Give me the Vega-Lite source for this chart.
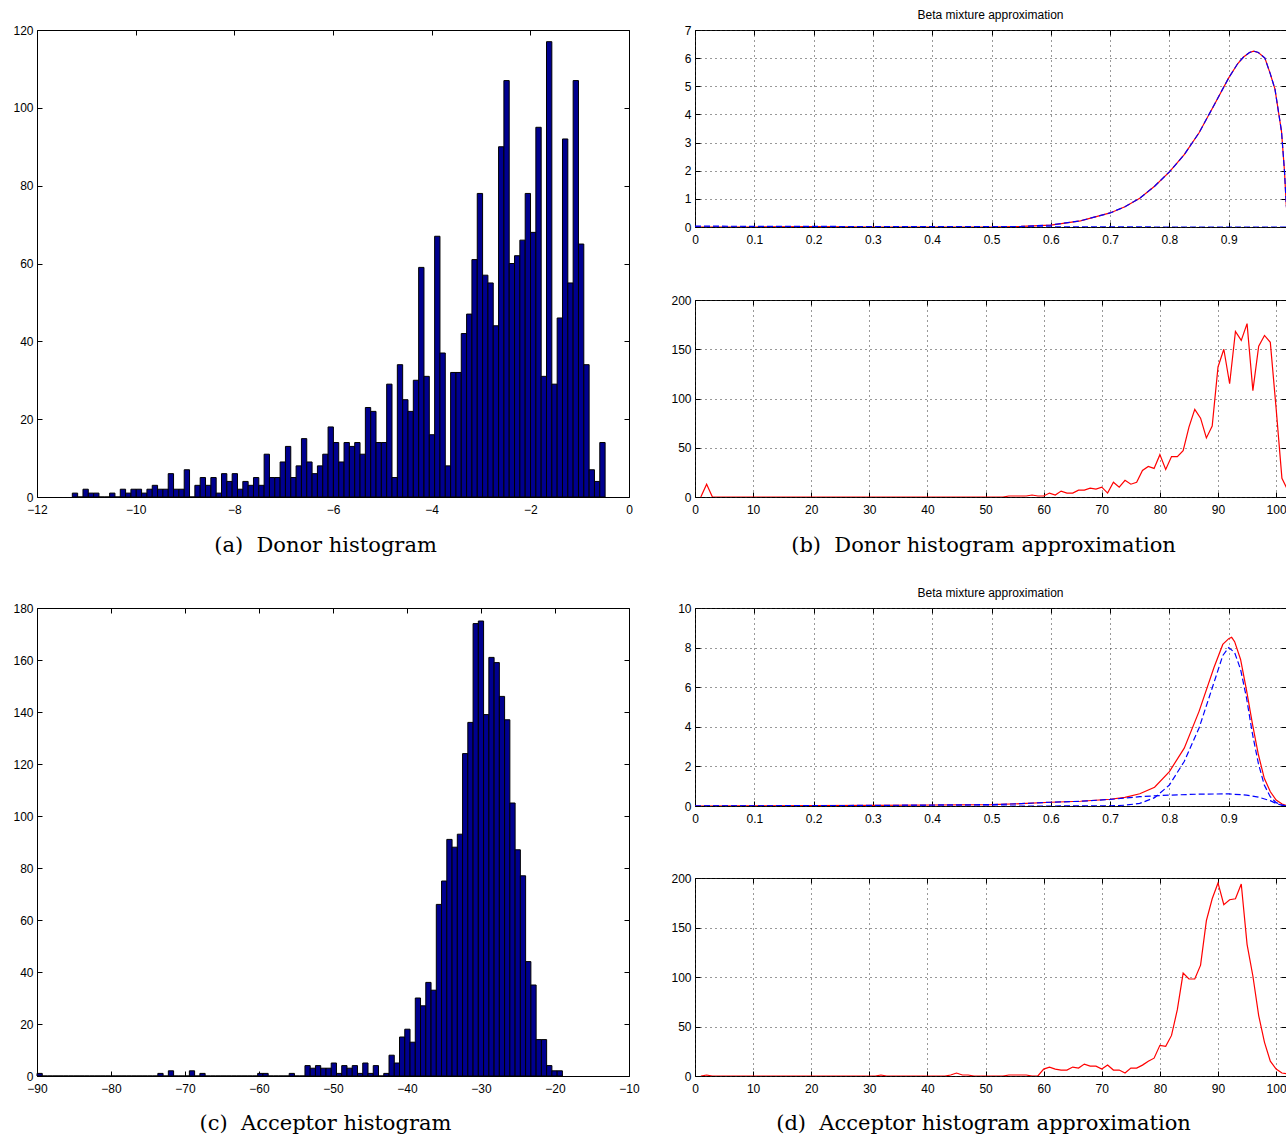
{
  "$schema": "https://vega.github.io/schema/vega-lite/v6.json",
  "background": "white",
  "padding": {"left": 12, "top": 8, "right": 0, "bottom": 0},
  "datasets": {
    "donor": [
      {"lo":-11.284,"hi":-11.176,"n":1},{"lo":-11.176,"hi":-11.068,"n":0},{"lo":-11.068,"hi":-10.96,"n":2},{"lo":-10.96,"hi":-10.852,"n":1},
      {"lo":-10.852,"hi":-10.744,"n":1},{"lo":-10.744,"hi":-10.636,"n":0},{"lo":-10.636,"hi":-10.528,"n":0},{"lo":-10.528,"hi":-10.42,"n":1},
      {"lo":-10.42,"hi":-10.312,"n":0},{"lo":-10.312,"hi":-10.204,"n":2},{"lo":-10.204,"hi":-10.096,"n":1},{"lo":-10.096,"hi":-9.988,"n":2},
      {"lo":-9.988,"hi":-9.88,"n":2},{"lo":-9.88,"hi":-9.772,"n":1},{"lo":-9.772,"hi":-9.664,"n":2},{"lo":-9.664,"hi":-9.556,"n":3},
      {"lo":-9.556,"hi":-9.448,"n":2},{"lo":-9.448,"hi":-9.34,"n":2},{"lo":-9.34,"hi":-9.232,"n":6},{"lo":-9.232,"hi":-9.124,"n":2},
      {"lo":-9.124,"hi":-9.016,"n":2},{"lo":-9.016,"hi":-8.908,"n":7},{"lo":-8.908,"hi":-8.8,"n":0},{"lo":-8.8,"hi":-8.692,"n":3},
      {"lo":-8.692,"hi":-8.584,"n":5},{"lo":-8.584,"hi":-8.476,"n":3},{"lo":-8.476,"hi":-8.368,"n":5},{"lo":-8.368,"hi":-8.26,"n":1},
      {"lo":-8.26,"hi":-8.152,"n":6},{"lo":-8.152,"hi":-8.044,"n":4},{"lo":-8.044,"hi":-7.936,"n":6},{"lo":-7.936,"hi":-7.828,"n":2},
      {"lo":-7.828,"hi":-7.72,"n":4},{"lo":-7.72,"hi":-7.612,"n":3},{"lo":-7.612,"hi":-7.504,"n":5},{"lo":-7.504,"hi":-7.396,"n":3},
      {"lo":-7.396,"hi":-7.288,"n":11},{"lo":-7.288,"hi":-7.18,"n":5},{"lo":-7.18,"hi":-7.072,"n":5},{"lo":-7.072,"hi":-6.964,"n":9},
      {"lo":-6.964,"hi":-6.856,"n":13},{"lo":-6.856,"hi":-6.748,"n":5},{"lo":-6.748,"hi":-6.64,"n":8},{"lo":-6.64,"hi":-6.532,"n":15},
      {"lo":-6.532,"hi":-6.424,"n":9},{"lo":-6.424,"hi":-6.316,"n":6},{"lo":-6.316,"hi":-6.208,"n":8},{"lo":-6.208,"hi":-6.1,"n":11},
      {"lo":-6.1,"hi":-5.992,"n":18},{"lo":-5.992,"hi":-5.884,"n":14},{"lo":-5.884,"hi":-5.776,"n":9},{"lo":-5.776,"hi":-5.668,"n":14},
      {"lo":-5.668,"hi":-5.56,"n":13},{"lo":-5.56,"hi":-5.452,"n":14},{"lo":-5.452,"hi":-5.344,"n":11},{"lo":-5.344,"hi":-5.236,"n":23},
      {"lo":-5.236,"hi":-5.128,"n":22},{"lo":-5.128,"hi":-5.02,"n":14},{"lo":-5.02,"hi":-4.912,"n":14},{"lo":-4.912,"hi":-4.804,"n":29},
      {"lo":-4.804,"hi":-4.696,"n":5},{"lo":-4.696,"hi":-4.588,"n":34},{"lo":-4.588,"hi":-4.48,"n":25},{"lo":-4.48,"hi":-4.372,"n":22},
      {"lo":-4.372,"hi":-4.264,"n":30},{"lo":-4.264,"hi":-4.156,"n":59},{"lo":-4.156,"hi":-4.048,"n":31},{"lo":-4.048,"hi":-3.94,"n":16},
      {"lo":-3.94,"hi":-3.832,"n":67},{"lo":-3.832,"hi":-3.724,"n":37},{"lo":-3.724,"hi":-3.616,"n":8},{"lo":-3.616,"hi":-3.508,"n":32},
      {"lo":-3.508,"hi":-3.4,"n":32},{"lo":-3.4,"hi":-3.292,"n":42},{"lo":-3.292,"hi":-3.184,"n":47},{"lo":-3.184,"hi":-3.076,"n":61},
      {"lo":-3.076,"hi":-2.968,"n":78},{"lo":-2.968,"hi":-2.86,"n":57},{"lo":-2.86,"hi":-2.752,"n":55},{"lo":-2.752,"hi":-2.644,"n":44},
      {"lo":-2.644,"hi":-2.536,"n":90},{"lo":-2.536,"hi":-2.428,"n":107},{"lo":-2.428,"hi":-2.32,"n":60},{"lo":-2.32,"hi":-2.212,"n":62},
      {"lo":-2.212,"hi":-2.104,"n":66},{"lo":-2.104,"hi":-1.996,"n":78},{"lo":-1.996,"hi":-1.888,"n":68},{"lo":-1.888,"hi":-1.78,"n":95},
      {"lo":-1.78,"hi":-1.672,"n":31},{"lo":-1.672,"hi":-1.564,"n":117},{"lo":-1.564,"hi":-1.456,"n":29},{"lo":-1.456,"hi":-1.348,"n":46},
      {"lo":-1.348,"hi":-1.24,"n":92},{"lo":-1.24,"hi":-1.132,"n":55},{"lo":-1.132,"hi":-1.024,"n":107},{"lo":-1.024,"hi":-0.916,"n":65},
      {"lo":-0.916,"hi":-0.808,"n":34},{"lo":-0.808,"hi":-0.7,"n":7},{"lo":-0.7,"hi":-0.592,"n":4},{"lo":-0.592,"hi":-0.484,"n":14}
    ],
    "acceptor": [
      {"lo":-90,"hi":-89.29,"n":1},{"lo":-89.29,"hi":-88.58,"n":0},{"lo":-88.58,"hi":-87.87,"n":0},{"lo":-87.87,"hi":-87.16,"n":0},
      {"lo":-87.16,"hi":-86.45,"n":0},{"lo":-86.45,"hi":-85.74,"n":0},{"lo":-85.74,"hi":-85.03,"n":0},{"lo":-85.03,"hi":-84.32,"n":0},
      {"lo":-84.32,"hi":-83.61,"n":0},{"lo":-83.61,"hi":-82.9,"n":0},{"lo":-82.9,"hi":-82.19,"n":0},{"lo":-82.19,"hi":-81.48,"n":0},
      {"lo":-81.48,"hi":-80.77,"n":0},{"lo":-80.77,"hi":-80.06,"n":0},{"lo":-80.06,"hi":-79.35,"n":0},{"lo":-79.35,"hi":-78.64,"n":0},
      {"lo":-78.64,"hi":-77.93,"n":0},{"lo":-77.93,"hi":-77.22,"n":0},{"lo":-77.22,"hi":-76.51,"n":0},{"lo":-76.51,"hi":-75.8,"n":0},
      {"lo":-75.8,"hi":-75.09,"n":0},{"lo":-75.09,"hi":-74.38,"n":0},{"lo":-74.38,"hi":-73.67,"n":0},{"lo":-73.67,"hi":-72.96,"n":1},
      {"lo":-72.96,"hi":-72.25,"n":0},{"lo":-72.25,"hi":-71.54,"n":2},{"lo":-71.54,"hi":-70.83,"n":0},{"lo":-70.83,"hi":-70.12,"n":0},
      {"lo":-70.12,"hi":-69.41,"n":0},{"lo":-69.41,"hi":-68.7,"n":2},{"lo":-68.7,"hi":-67.99,"n":0},{"lo":-67.99,"hi":-67.28,"n":1},
      {"lo":-67.28,"hi":-66.57,"n":0},{"lo":-66.57,"hi":-65.86,"n":0},{"lo":-65.86,"hi":-65.15,"n":0},{"lo":-65.15,"hi":-64.44,"n":0},
      {"lo":-64.44,"hi":-63.73,"n":0},{"lo":-63.73,"hi":-63.02,"n":0},{"lo":-63.02,"hi":-62.31,"n":0},{"lo":-62.31,"hi":-61.6,"n":0},
      {"lo":-61.6,"hi":-60.89,"n":0},{"lo":-60.89,"hi":-60.18,"n":0},{"lo":-60.18,"hi":-59.47,"n":1},{"lo":-59.47,"hi":-58.76,"n":1},
      {"lo":-58.76,"hi":-58.05,"n":0},{"lo":-58.05,"hi":-57.34,"n":0},{"lo":-57.34,"hi":-56.63,"n":0},{"lo":-56.63,"hi":-55.92,"n":0},
      {"lo":-55.92,"hi":-55.21,"n":1},{"lo":-55.21,"hi":-54.5,"n":0},{"lo":-54.5,"hi":-53.79,"n":0},{"lo":-53.79,"hi":-53.08,"n":4},
      {"lo":-53.08,"hi":-52.37,"n":3},{"lo":-52.37,"hi":-51.66,"n":4},{"lo":-51.66,"hi":-50.95,"n":3},{"lo":-50.95,"hi":-50.24,"n":3},
      {"lo":-50.24,"hi":-49.53,"n":5},{"lo":-49.53,"hi":-48.82,"n":1},{"lo":-48.82,"hi":-48.11,"n":4},{"lo":-48.11,"hi":-47.4,"n":3},
      {"lo":-47.4,"hi":-46.69,"n":4},{"lo":-46.69,"hi":-45.98,"n":1},{"lo":-45.98,"hi":-45.27,"n":5},{"lo":-45.27,"hi":-44.56,"n":1},
      {"lo":-44.56,"hi":-43.85,"n":4},{"lo":-43.85,"hi":-43.14,"n":0},{"lo":-43.14,"hi":-42.43,"n":1},{"lo":-42.43,"hi":-41.72,"n":8},
      {"lo":-41.72,"hi":-41.01,"n":5},{"lo":-41.01,"hi":-40.3,"n":15},{"lo":-40.3,"hi":-39.59,"n":18},{"lo":-39.59,"hi":-38.88,"n":13},
      {"lo":-38.88,"hi":-38.17,"n":30},{"lo":-38.17,"hi":-37.46,"n":27},{"lo":-37.46,"hi":-36.75,"n":36},{"lo":-36.75,"hi":-36.04,"n":33},
      {"lo":-36.04,"hi":-35.33,"n":66},{"lo":-35.33,"hi":-34.62,"n":75},{"lo":-34.62,"hi":-33.91,"n":91},{"lo":-33.91,"hi":-33.2,"n":88},
      {"lo":-33.2,"hi":-32.49,"n":93},{"lo":-32.49,"hi":-31.78,"n":124},{"lo":-31.78,"hi":-31.07,"n":136},{"lo":-31.07,"hi":-30.36,"n":174},
      {"lo":-30.36,"hi":-29.65,"n":175},{"lo":-29.65,"hi":-28.94,"n":139},{"lo":-28.94,"hi":-28.23,"n":161},{"lo":-28.23,"hi":-27.52,"n":159},
      {"lo":-27.52,"hi":-26.81,"n":146},{"lo":-26.81,"hi":-26.1,"n":137},{"lo":-26.1,"hi":-25.39,"n":105},{"lo":-25.39,"hi":-24.68,"n":87},
      {"lo":-24.68,"hi":-23.97,"n":77},{"lo":-23.97,"hi":-23.26,"n":44},{"lo":-23.26,"hi":-22.55,"n":35},{"lo":-22.55,"hi":-21.84,"n":14},
      {"lo":-21.84,"hi":-21.13,"n":14},{"lo":-21.13,"hi":-20.42,"n":4},{"lo":-20.42,"hi":-19.71,"n":2},{"lo":-19.71,"hi":-19.0,"n":2}
    ],
    "donorFit": [
      {"x":0,"y":0,"s":"mix"},{"x":0.1,"y":0,"s":"mix"},{"x":0.2,"y":0.01,"s":"mix"},{"x":0.3,"y":0,"s":"mix"},{"x":0.4,"y":0,"s":"mix"},
      {"x":0.5,"y":0,"s":"mix"},{"x":0.55,"y":0.02,"s":"mix"},{"x":0.6,"y":0.07,"s":"mix"},{"x":0.65,"y":0.22,"s":"mix"},{"x":0.7,"y":0.5,"s":"mix"},
      {"x":0.725,"y":0.72,"s":"mix"},{"x":0.75,"y":1.02,"s":"mix"},{"x":0.775,"y":1.45,"s":"mix"},{"x":0.8,"y":1.96,"s":"mix"},{"x":0.825,"y":2.57,"s":"mix"},
      {"x":0.85,"y":3.35,"s":"mix"},{"x":0.875,"y":4.32,"s":"mix"},{"x":0.9,"y":5.3,"s":"mix"},{"x":0.915,"y":5.8,"s":"mix"},{"x":0.925,"y":6.04,"s":"mix"},
      {"x":0.935,"y":6.2,"s":"mix"},{"x":0.942,"y":6.25,"s":"mix"},{"x":0.95,"y":6.2,"s":"mix"},{"x":0.961,"y":6.0,"s":"mix"},{"x":0.97,"y":5.45,"s":"mix"},
      {"x":0.978,"y":4.9,"s":"mix"},{"x":0.989,"y":3.4,"s":"mix"},{"x":0.994,"y":2.0,"s":"mix"},{"x":0.997,"y":0.8,"s":"mix"},{"x":1.0,"y":0.2,"s":"mix"},
      {"x":0,"y":0,"s":"c1"},{"x":0.1,"y":0,"s":"c1"},{"x":0.2,"y":0,"s":"c1"},{"x":0.3,"y":0,"s":"c1"},{"x":0.4,"y":0,"s":"c1"},
      {"x":0.5,"y":0,"s":"c1"},{"x":0.55,"y":0.02,"s":"c1"},{"x":0.6,"y":0.07,"s":"c1"},{"x":0.65,"y":0.22,"s":"c1"},{"x":0.7,"y":0.5,"s":"c1"},
      {"x":0.725,"y":0.72,"s":"c1"},{"x":0.75,"y":1.02,"s":"c1"},{"x":0.775,"y":1.45,"s":"c1"},{"x":0.8,"y":1.96,"s":"c1"},{"x":0.825,"y":2.57,"s":"c1"},
      {"x":0.85,"y":3.35,"s":"c1"},{"x":0.875,"y":4.32,"s":"c1"},{"x":0.9,"y":5.3,"s":"c1"},{"x":0.915,"y":5.8,"s":"c1"},{"x":0.925,"y":6.04,"s":"c1"},
      {"x":0.935,"y":6.2,"s":"c1"},{"x":0.942,"y":6.25,"s":"c1"},{"x":0.95,"y":6.2,"s":"c1"},{"x":0.961,"y":6.0,"s":"c1"},{"x":0.97,"y":5.45,"s":"c1"},
      {"x":0.978,"y":4.9,"s":"c1"},{"x":0.989,"y":3.4,"s":"c1"},{"x":0.994,"y":2.0,"s":"c1"},{"x":0.997,"y":0.8,"s":"c1"},{"x":1.0,"y":0.2,"s":"c1"},
      {"x":0,"y":0.03,"s":"c2"},{"x":0.2,"y":0.02,"s":"c2"},{"x":0.5,"y":0.01,"s":"c2"},{"x":0.8,"y":0,"s":"c2"},{"x":1.0,"y":0,"s":"c2"}
    ],
    "acceptorFit": [
      {"x":0,"y":0,"s":"mix"},{"x":0.1,"y":0.01,"s":"mix"},{"x":0.2,"y":0.02,"s":"mix"},{"x":0.3,"y":0.03,"s":"mix"},{"x":0.4,"y":0.05,"s":"mix"},
      {"x":0.5,"y":0.07,"s":"mix"},{"x":0.55,"y":0.12,"s":"mix"},{"x":0.6,"y":0.19,"s":"mix"},{"x":0.65,"y":0.24,"s":"mix"},{"x":0.7,"y":0.34,"s":"mix"},
      {"x":0.725,"y":0.44,"s":"mix"},{"x":0.75,"y":0.62,"s":"mix"},{"x":0.775,"y":0.95,"s":"mix"},{"x":0.8,"y":1.74,"s":"mix"},{"x":0.825,"y":2.92,"s":"mix"},
      {"x":0.85,"y":4.78,"s":"mix"},{"x":0.875,"y":6.98,"s":"mix"},{"x":0.89,"y":8.16,"s":"mix"},{"x":0.9,"y":8.45,"s":"mix"},{"x":0.905,"y":8.52,"s":"mix"},
      {"x":0.91,"y":8.3,"s":"mix"},{"x":0.92,"y":7.4,"s":"mix"},{"x":0.93,"y":5.85,"s":"mix"},{"x":0.94,"y":4.15,"s":"mix"},{"x":0.95,"y":2.6,"s":"mix"},
      {"x":0.96,"y":1.4,"s":"mix"},{"x":0.97,"y":0.73,"s":"mix"},{"x":0.98,"y":0.3,"s":"mix"},{"x":0.99,"y":0.1,"s":"mix"},{"x":1.0,"y":0,"s":"mix"},
      {"x":0,"y":0,"s":"c1"},{"x":0.6,"y":0,"s":"c1"},{"x":0.7,"y":0.01,"s":"c1"},{"x":0.725,"y":0.04,"s":"c1"},{"x":0.75,"y":0.13,"s":"c1"},
      {"x":0.775,"y":0.42,"s":"c1"},{"x":0.8,"y":1.06,"s":"c1"},{"x":0.825,"y":2.25,"s":"c1"},{"x":0.85,"y":3.94,"s":"c1"},{"x":0.875,"y":6.22,"s":"c1"},
      {"x":0.89,"y":7.6,"s":"c1"},{"x":0.9,"y":8.0,"s":"c1"},{"x":0.91,"y":7.75,"s":"c1"},{"x":0.92,"y":6.9,"s":"c1"},{"x":0.93,"y":5.46,"s":"c1"},
      {"x":0.94,"y":3.65,"s":"c1"},{"x":0.95,"y":2.15,"s":"c1"},{"x":0.96,"y":1.06,"s":"c1"},{"x":0.97,"y":0.47,"s":"c1"},{"x":0.98,"y":0.17,"s":"c1"},
      {"x":0.99,"y":0.04,"s":"c1"},{"x":1.0,"y":0,"s":"c1"},
      {"x":0,"y":0,"s":"c2"},{"x":0.1,"y":0.01,"s":"c2"},{"x":0.2,"y":0.02,"s":"c2"},{"x":0.3,"y":0.03,"s":"c2"},{"x":0.4,"y":0.05,"s":"c2"},
      {"x":0.5,"y":0.07,"s":"c2"},{"x":0.55,"y":0.12,"s":"c2"},{"x":0.6,"y":0.19,"s":"c2"},{"x":0.65,"y":0.24,"s":"c2"},{"x":0.7,"y":0.33,"s":"c2"},
      {"x":0.75,"y":0.47,"s":"c2"},{"x":0.8,"y":0.55,"s":"c2"},{"x":0.85,"y":0.6,"s":"c2"},{"x":0.9,"y":0.61,"s":"c2"},{"x":0.93,"y":0.55,"s":"c2"},
      {"x":0.95,"y":0.45,"s":"c2"},{"x":0.97,"y":0.27,"s":"c2"},{"x":0.98,"y":0.13,"s":"c2"},{"x":0.99,"y":0.04,"s":"c2"},{"x":1.0,"y":0,"s":"c2"}
    ],
    "donorCounts": [
      {"k":1,"n":0},{"k":2,"n":13},{"k":3,"n":0},{"k":4,"n":0},{"k":5,"n":0},{"k":6,"n":0},{"k":7,"n":0},{"k":8,"n":0},{"k":9,"n":0},{"k":10,"n":0},
      {"k":11,"n":0},{"k":12,"n":0},{"k":13,"n":0},{"k":14,"n":0},{"k":15,"n":0},{"k":16,"n":0},{"k":17,"n":0},{"k":18,"n":0},{"k":19,"n":0},{"k":20,"n":0},
      {"k":21,"n":0},{"k":22,"n":0},{"k":23,"n":0},{"k":24,"n":0},{"k":25,"n":0},{"k":26,"n":0},{"k":27,"n":0},{"k":28,"n":0},{"k":29,"n":0},{"k":30,"n":0},
      {"k":31,"n":0},{"k":32,"n":0},{"k":33,"n":0},{"k":34,"n":0},{"k":35,"n":0},{"k":36,"n":0},{"k":37,"n":0},{"k":38,"n":0},{"k":39,"n":0},{"k":40,"n":0},
      {"k":41,"n":0},{"k":42,"n":0},{"k":43,"n":0},{"k":44,"n":0},{"k":45,"n":0},{"k":46,"n":0},{"k":47,"n":0},{"k":48,"n":0},{"k":49,"n":0},{"k":50,"n":0},
      {"k":51,"n":0},{"k":52,"n":0},{"k":53,"n":0},{"k":54,"n":1},{"k":55,"n":1},{"k":56,"n":1},{"k":57,"n":1},{"k":58,"n":2},{"k":59,"n":1},{"k":60,"n":1},
      {"k":61,"n":4},{"k":62,"n":2},{"k":63,"n":6},{"k":64,"n":4},{"k":65,"n":4},{"k":66,"n":7},{"k":67,"n":7},{"k":68,"n":9},{"k":69,"n":8},{"k":70,"n":10},
      {"k":71,"n":4},{"k":72,"n":15},{"k":73,"n":10},{"k":74,"n":17},{"k":75,"n":13},{"k":76,"n":15},{"k":77,"n":27},{"k":78,"n":31},{"k":79,"n":29},{"k":80,"n":43},
      {"k":81,"n":28},{"k":82,"n":41},{"k":83,"n":41},{"k":84,"n":47},{"k":85,"n":71},{"k":86,"n":89},{"k":87,"n":80},{"k":88,"n":60},{"k":89,"n":72},{"k":90,"n":132},
      {"k":91,"n":150},{"k":92,"n":115},{"k":93,"n":168},{"k":94,"n":159},{"k":95,"n":176},{"k":96,"n":108},{"k":97,"n":153},{"k":98,"n":164},{"k":99,"n":157},{"k":100,"n":90},
      {"k":101,"n":19},{"k":102,"n":7}
    ],
    "acceptorCounts": [
      {"k":1,"n":0},{"k":2,"n":1},{"k":3,"n":0},{"k":4,"n":0},{"k":5,"n":0},{"k":6,"n":0},{"k":7,"n":0},{"k":8,"n":0},{"k":9,"n":0},{"k":10,"n":0},
      {"k":11,"n":0},{"k":12,"n":0},{"k":13,"n":0},{"k":14,"n":0},{"k":15,"n":0},{"k":16,"n":0},{"k":17,"n":0},{"k":18,"n":0},{"k":19,"n":0},{"k":20,"n":0},
      {"k":21,"n":0},{"k":22,"n":0},{"k":23,"n":0},{"k":24,"n":0},{"k":25,"n":0},{"k":26,"n":0},{"k":27,"n":0},{"k":28,"n":0},{"k":29,"n":0},{"k":30,"n":0},
      {"k":31,"n":0},{"k":32,"n":1},{"k":33,"n":0},{"k":34,"n":0},{"k":35,"n":0},{"k":36,"n":0},{"k":37,"n":0},{"k":38,"n":0},{"k":39,"n":0},{"k":40,"n":0},
      {"k":41,"n":0},{"k":42,"n":0},{"k":43,"n":0},{"k":44,"n":1},{"k":45,"n":3},{"k":46,"n":1},{"k":47,"n":1},{"k":48,"n":0},{"k":49,"n":0},{"k":50,"n":0},
      {"k":51,"n":0},{"k":52,"n":0},{"k":53,"n":0},{"k":54,"n":1},{"k":55,"n":1},{"k":56,"n":1},{"k":57,"n":1},{"k":58,"n":0},{"k":59,"n":0},{"k":60,"n":7},
      {"k":61,"n":9},{"k":62,"n":7},{"k":63,"n":6},{"k":64,"n":6},{"k":65,"n":9},{"k":66,"n":8},{"k":67,"n":12},{"k":68,"n":10},{"k":69,"n":10},{"k":70,"n":7},
      {"k":71,"n":11},{"k":72,"n":6},{"k":73,"n":6},{"k":74,"n":3},{"k":75,"n":8},{"k":76,"n":8},{"k":77,"n":11},{"k":78,"n":15},{"k":79,"n":18},{"k":80,"n":31},
      {"k":81,"n":30},{"k":82,"n":41},{"k":83,"n":67},{"k":84,"n":104},{"k":85,"n":98},{"k":86,"n":98},{"k":87,"n":112},{"k":88,"n":157},{"k":89,"n":179},{"k":90,"n":195},
      {"k":91,"n":173},{"k":92,"n":178},{"k":93,"n":179},{"k":94,"n":194},{"k":95,"n":133},{"k":96,"n":101},{"k":97,"n":61},{"k":98,"n":34},{"k":99,"n":15},{"k":100,"n":7},
      {"k":101,"n":3},{"k":102,"n":2}
    ]
  },
  "spacing": 30,
  "vconcat": [
    {
      "spacing": 66,
      "bounds": "flush",
      "hconcat": [
        {
          "width": 592,
          "height": 467,
          "data": {"name": "donor"},
          "layer": [
            {
              "mark": {"type": "rect", "fill": "#00008f", "stroke": "#000000", "strokeWidth": 1},
              "encoding": {
                "x": {"field": "lo", "type": "quantitative", "scale": {"domain": [-12, 0], "nice": false, "zero": false},
                      "axis": {"orient": "bottom", "values": [-12, -10, -8, -6, -4, -2, 0], "title": "(a)\u00a0 Donor histogram", "titleX": 288, "titleY": 54, "titleAlign": "center", "titleBaseline": "alphabetic"}},
                "x2": {"field": "hi"},
                "y": {"field": "n", "type": "quantitative", "scale": {"domain": [0, 120], "nice": false},
                      "axis": {"orient": "left", "values": [0, 20, 40, 60, 80, 100, 120], "title": null}},
                "y2": {"datum": 0}
              }
            },
            {
              "mark": {"type": "point", "opacity": 0},
              "encoding": {
                "x": {"field": "lo", "type": "quantitative", "axis": {"orient": "top", "labels": false, "values": [-12, -10, -8, -6, -4, -2, 0], "title": null}},
                "y": {"field": "n", "type": "quantitative", "axis": {"orient": "right", "labels": false, "values": [0, 20, 40, 60, 80, 100, 120], "title": null}}
              }
            }
          ],
          "resolve": {"axis": {"x": "independent", "y": "independent"}}
        },
        {
          "spacing": 73,
          "bounds": "flush",
          "vconcat": [
            {
              "width": 591,
              "height": 197,
              "title": "Beta mixture approximation",
              "data": {"name": "donorFit"},
              "layer": [
                {
                  "transform": [{"filter": "datum.s === 'mix'"}],
                  "mark": {"type": "line", "color": "#ff0000", "strokeWidth": 1.2, "clip": true},
                  "encoding": {
                    "x": {"field": "x", "type": "quantitative", "scale": {"domain": [0, 0.9966], "nice": false, "zero": false},
                          "axis": {"orient": "bottom", "values": [0, 0.1, 0.2, 0.3, 0.4, 0.5, 0.6, 0.7, 0.8, 0.9], "format": "~g", "grid": true, "title": null}},
                    "y": {"field": "y", "type": "quantitative", "scale": {"domain": [0, 7], "nice": false},
                          "axis": {"orient": "left", "values": [0, 1, 2, 3, 4, 5, 6, 7], "grid": true, "title": null}}
                  }
                },
                {
                  "transform": [{"filter": "datum.s !== 'mix'"}],
                  "mark": {"type": "line", "color": "#0000ff", "strokeWidth": 1.2, "strokeDash": [6, 3], "clip": true},
                  "encoding": {
                    "x": {"field": "x", "type": "quantitative", "axis": {"orient": "top", "labels": false, "values": [0, 0.1, 0.2, 0.3, 0.4, 0.5, 0.6, 0.7, 0.8, 0.9], "title": null}},
                    "y": {"field": "y", "type": "quantitative", "axis": {"orient": "right", "labels": false, "values": [0, 1, 2, 3, 4, 5, 6, 7], "title": null}},
                    "detail": {"field": "s"}
                  }
                }
              ],
              "resolve": {"axis": {"x": "independent", "y": "independent"}}
            },
            {
              "width": 591,
              "height": 197,
              "data": {"name": "donorCounts"},
              "layer": [
                {
                  "mark": {"type": "line", "color": "#ff0000", "strokeWidth": 1.2, "clip": true},
                  "encoding": {
                    "x": {"field": "k", "type": "quantitative", "scale": {"domain": [0, 101.7], "nice": false, "zero": false},
                          "axis": {"orient": "bottom", "values": [0, 10, 20, 30, 40, 50, 60, 70, 80, 90, 100], "grid": true, "title": "(b)\u00a0 Donor histogram approximation", "titleX": 288, "titleY": 54, "titleAlign": "center", "titleBaseline": "alphabetic"}},
                    "y": {"field": "n", "type": "quantitative", "scale": {"domain": [0, 200], "nice": false},
                          "axis": {"orient": "left", "values": [0, 50, 100, 150, 200], "grid": true, "title": null}}
                  }
                },
                {
                  "mark": {"type": "point", "opacity": 0},
                  "encoding": {
                    "x": {"field": "k", "type": "quantitative", "axis": {"orient": "top", "labels": false, "values": [0, 10, 20, 30, 40, 50, 60, 70, 80, 90, 100], "title": null}},
                    "y": {"field": "n", "type": "quantitative", "axis": {"orient": "right", "labels": false, "values": [0, 50, 100, 150, 200], "title": null}}
                  }
                }
              ],
              "resolve": {"axis": {"x": "independent", "y": "independent"}}
            }
          ]
        }
      ]
    },
    {
      "spacing": 66,
      "bounds": "flush",
      "hconcat": [
        {
          "width": 592,
          "height": 468,
          "data": {"name": "acceptor"},
          "layer": [
            {
              "mark": {"type": "rect", "fill": "#00008f", "stroke": "#000000", "strokeWidth": 1},
              "encoding": {
                "x": {"field": "lo", "type": "quantitative", "scale": {"domain": [-90, -10], "nice": false, "zero": false},
                      "axis": {"orient": "bottom", "values": [-90, -80, -70, -60, -50, -40, -30, -20, -10], "title": "(c)\u00a0 Acceptor histogram", "titleX": 288, "titleY": 53, "titleAlign": "center", "titleBaseline": "alphabetic"}},
                "x2": {"field": "hi"},
                "y": {"field": "n", "type": "quantitative", "scale": {"domain": [0, 180], "nice": false},
                      "axis": {"orient": "left", "values": [0, 20, 40, 60, 80, 100, 120, 140, 160, 180], "title": null}},
                "y2": {"datum": 0}
              }
            },
            {
              "mark": {"type": "point", "opacity": 0},
              "encoding": {
                "x": {"field": "lo", "type": "quantitative", "axis": {"orient": "top", "labels": false, "values": [-90, -80, -70, -60, -50, -40, -30, -20, -10], "title": null}},
                "y": {"field": "n", "type": "quantitative", "axis": {"orient": "right", "labels": false, "values": [0, 20, 40, 60, 80, 100, 120, 140, 160, 180], "title": null}}
              }
            }
          ],
          "resolve": {"axis": {"x": "independent", "y": "independent"}}
        },
        {
          "spacing": 72,
          "bounds": "flush",
          "vconcat": [
            {
              "width": 591,
              "height": 198,
              "title": "Beta mixture approximation",
              "data": {"name": "acceptorFit"},
              "layer": [
                {
                  "transform": [{"filter": "datum.s === 'mix'"}],
                  "mark": {"type": "line", "color": "#ff0000", "strokeWidth": 1.2, "clip": true},
                  "encoding": {
                    "x": {"field": "x", "type": "quantitative", "scale": {"domain": [0, 0.9966], "nice": false, "zero": false},
                          "axis": {"orient": "bottom", "values": [0, 0.1, 0.2, 0.3, 0.4, 0.5, 0.6, 0.7, 0.8, 0.9], "format": "~g", "grid": true, "title": null}},
                    "y": {"field": "y", "type": "quantitative", "scale": {"domain": [0, 10], "nice": false},
                          "axis": {"orient": "left", "values": [0, 2, 4, 6, 8, 10], "grid": true, "title": null}}
                  }
                },
                {
                  "transform": [{"filter": "datum.s !== 'mix'"}],
                  "mark": {"type": "line", "color": "#0000ff", "strokeWidth": 1.2, "strokeDash": [6, 3], "clip": true},
                  "encoding": {
                    "x": {"field": "x", "type": "quantitative", "axis": {"orient": "top", "labels": false, "values": [0, 0.1, 0.2, 0.3, 0.4, 0.5, 0.6, 0.7, 0.8, 0.9], "title": null}},
                    "y": {"field": "y", "type": "quantitative", "axis": {"orient": "right", "labels": false, "values": [0, 2, 4, 6, 8, 10], "title": null}},
                    "detail": {"field": "s"}
                  }
                }
              ],
              "resolve": {"axis": {"x": "independent", "y": "independent"}}
            },
            {
              "width": 591,
              "height": 198,
              "data": {"name": "acceptorCounts"},
              "layer": [
                {
                  "mark": {"type": "line", "color": "#ff0000", "strokeWidth": 1.2, "clip": true},
                  "encoding": {
                    "x": {"field": "k", "type": "quantitative", "scale": {"domain": [0, 101.7], "nice": false, "zero": false},
                          "axis": {"orient": "bottom", "values": [0, 10, 20, 30, 40, 50, 60, 70, 80, 90, 100], "grid": true, "title": "(d)\u00a0 Acceptor histogram approximation", "titleX": 288, "titleY": 53, "titleAlign": "center", "titleBaseline": "alphabetic"}},
                    "y": {"field": "n", "type": "quantitative", "scale": {"domain": [0, 200], "nice": false},
                          "axis": {"orient": "left", "values": [0, 50, 100, 150, 200], "grid": true, "title": null}}
                  }
                },
                {
                  "mark": {"type": "point", "opacity": 0},
                  "encoding": {
                    "x": {"field": "k", "type": "quantitative", "axis": {"orient": "top", "labels": false, "values": [0, 10, 20, 30, 40, 50, 60, 70, 80, 90, 100], "title": null}},
                    "y": {"field": "n", "type": "quantitative", "axis": {"orient": "right", "labels": false, "values": [0, 50, 100, 150, 200], "title": null}}
                  }
                }
              ],
              "resolve": {"axis": {"x": "independent", "y": "independent"}}
            }
          ]
        }
      ]
    }
  ],
  "config": {
    "view": {"stroke": "#000000", "strokeWidth": 1},
    "axis": {
      "domain": false,
      "tickSize": -5,
      "tickColor": "#000000",
      "tickWidth": 1,
      "labelPadding": 9,
      "labelFont": "Liberation Sans",
      "labelFontSize": 12,
      "labelColor": "#000000",
      "labelFlush": false,
      "labelOverlap": false,
      "grid": false,
      "gridColor": "#333333",
      "gridDash": [1, 4],
      "gridWidth": 1,
      "titleFont": "DejaVu Serif",
      "titleFontSize": 21,
      "titleFontWeight": "normal",
      "titleColor": "#000000"
    },
    "axisX": {"labelPadding": 12},
    "title": {"font": "Liberation Sans", "fontSize": 12, "fontWeight": "normal", "color": "#000000", "offset": 2, "baseline": "bottom", "anchor": "middle"}
  }
}
